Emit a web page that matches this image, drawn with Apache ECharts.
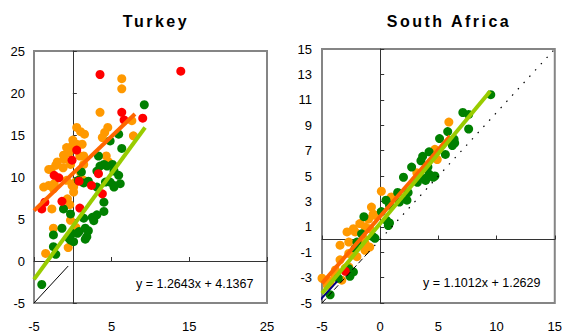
<!DOCTYPE html>
<html>
<head>
<meta charset="utf-8">
<script src="https://cdn.jsdelivr.net/npm/echarts@6/dist/echarts.min.js"></script>
<style>
  html, body { margin: 0; padding: 0; background: #fff; }
  #c { width: 565px; height: 333px; }
</style>
</head>
<body>
<div id="c"></div>
<script>
// ---- Turkey: observation groups [x, y] ----
const turkeyGreen = [
  [9.2,18.6],[5.9,15.1],[4.8,14.3],[6.3,13.4],[3.3,12.5],[3.5,11.3],[4.0,11.5],[4.4,11.3],
  [5.1,11.5],[5.3,10.7],[3.1,10.7],[1.1,10.6],[5.9,10.2],[0.7,9.6],[1.4,9.3],[2.0,9.5],
  [4.2,9.4],[4.8,9.4],[5.3,9.0],[6.1,9.2],[3.1,8.8],[5.3,8.8],[4.0,7.0],[4.0,5.9],
  [3.1,5.5],[2.5,5.2],[1.4,5.1],[2.7,4.8],[-1.2,6.2],[-0.3,5.6],[-1.4,3.9],[-2.5,3.1],
  [1.6,3.9],[1.8,2.9],[1.6,2.6],[-0.5,2.7],[0.1,2.3],[0.6,3.3],[0.8,3.5],[2.0,3.6],
  [-0.1,3.3],[-0.3,2.5],[-2.5,1.7],[-2.2,0.8],[-4.0,-2.8]
];
const turkeyOrange = [
  [6.3,21.7],[6.3,20.5],[3.5,17.7],[7.6,16.7],[0.5,15.9],[1.0,15.4],[1.5,15.1],[4.5,15.9],
  [4.1,15.3],[3.8,14.7],[7.8,14.9],[0.5,13.9],[1.2,13.9],[0.0,14.4],[-0.1,13.7],[-0.8,13.5],
  [-0.5,12.9],[-1.2,12.6],[1.4,12.5],[4.3,12.5],[0.9,12.5],[-1.1,12.1],[-2.0,11.8],[-2.2,11.4],
  [-1.25,11.1],[-0.3,11.5],[1.4,11.5],[4.6,11.8],[-2.8,10.9],[-3.1,10.9],[1.0,10.5],[-0.8,9.6],
  [0.3,9.4],[-0.1,9.0],[1.4,9.6],[-2.4,9.2],[-3.1,9.0],[-3.75,8.8],[-2.5,8.6],[0.1,8.8],
  [0.1,8.2],[-0.7,7.4],[-0.4,6.7],[-2.7,6.2],[-0.3,4.85],[-2.5,3.9],[0.4,4.0],[-3.5,0.9],
  [-0.6,1.6]
];
const turkeyRed = [
  [3.5,22.2],[13.9,22.6],[6.3,17.7],[6.6,16.8],[9.0,17.0],[0.5,13.2],[-0.1,12.0],[-2.4,10.2],
  [-1.8,9.9],[3.3,10.4],[2.4,9.0],[0.8,9.5],[3.8,8.0],[-1.4,7.1],[-3.6,7.0],[-4.0,6.2],[0.9,6.3]
];

// ---- South Africa: observation groups [x, y] ----
const saGreen = [
  [9.5,11.4],[7.1,10.0],[7.6,9.85],[7.6,8.7],[5.8,8.5],[5.1,7.95],[6.35,7.9],[6.4,7.6],
  [6.2,7.4],[5.6,6.7],[4.2,6.9],[3.65,6.55],[3.5,6.2],[2.7,5.7],[4.1,5.7],[4.2,5.15],
  [4.7,5.0],[4.55,4.9],[3.9,4.65],[3.2,4.5],[3.8,4.8],[2.0,4.9],[1.5,3.7],[2.4,3.7],
  [2.3,3.1],[0.5,3.1],[1.65,2.95],[0.8,2.7],[0.1,2.2],[0.55,1.5],[0.7,1.1],[0.8,1.3],
  [-1.4,1.8],[-0.6,0.2],[-0.45,0.1],[-1.6,0.45],[-2.0,-0.2],[-2.15,-0.7],[-2.3,-2.55],
  [-2.6,-2.9],[-2.7,-2.3],[-3.6,-3.05],[-4.3,-4.35]
];
const saOrange = [
  [5.9,9.25],[4.7,7.1],[4.9,6.3],[3.15,5.25],[0.1,3.8],[0.95,3.35],[-0.75,2.55],[-0.6,2.0],
  [-0.45,1.9],[-1.0,1.6],[-1.75,1.25],[-1.3,1.0],[-2.3,0.85],[-2.85,0.6],[-2.15,0.6],[-0.9,0.85],
  [-1.45,0.1],[-2.7,-0.2],[-3.45,-0.45],[-1.3,-0.3],[-0.9,-0.6],[-1.3,-0.85],[-2.0,-1.35],
  [-2.7,-1.1],[-3.45,-1.6],[-2.7,-2.15],[-3.0,-2.25],[-3.85,-2.4],[-3.85,-2.9],[-3.3,-3.2],
  [-4.3,-3.3],[-4.55,-3.6],[-5.0,-3.05]
];
const saRed = [[-3.0,-2.5]];

// ---- fitted lines ----
const turkeyFit = { slope: 1.2643, intercept: 4.1367 };
const turkeyFitRange = [-5, 9.3];
const turkeyOrangeFit = [[-5, 6.0], [8.0, 17.5]];
const turkeyDiagonal = [[-5, -5], [-0.6, -0.6]];

const saFit = { slope: 1.1012, intercept: 1.2629 };
const saFitRange = [-5, 9.45];
const saOrangeFit = [[-5, -3.45], [6.0, 8.15]];
const saDiagonalDash = [[-5, -5], [-1, -1]];
const saDiagonalDot = [[-1, -1], [15, 15]];
const saNavyFit = [[-5.2, -4.8], [-3.7, -3.3]];

// ---- axes ----
const turkeyAxis = { xMin: -5, xMax: 25, xStep: 10, yMin: -5, yMax: 25, yStep: 5 };
const saAxis = { xMin: -5, xMax: 15, xStep: 5, yMin: -5, yMax: 15, yStep: 2 };
const titles = ['Turkey', 'South Africa'];

const FONT = '"Liberation Sans", Arial, Helvetica, sans-serif';
const C_GREEN = '#008000', C_ORANGE = '#FF9900', C_RED = '#FF0000';
const C_FIT = '#99CC00', C_OFIT = '#FF6600';

function fitLine(f, r) {
  return r.map(x => [x, f.slope * x + f.intercept]);
}

function labelAxis(dim, grid, ax) {
  const isX = dim === 'x';
  return {
    type: 'value', gridIndex: grid,
    position: isX ? 'bottom' : 'left',
    min: isX ? ax.xMin : ax.yMin, max: isX ? ax.xMax : ax.yMax,
    interval: isX ? ax.xStep : ax.yStep,
    axisLine: { show: false, onZero: false },
    axisTick: { show: false },
    splitLine: { show: false },
    axisLabel: {
      color: '#000', fontSize: 13, fontFamily: FONT,
      margin: isX ? 17 : (grid === 0 ? 9 : 10),
      showMinLabel: true, showMaxLabel: true
    }
  };
}
function zeroAxis(dim, grid, ax) {
  const isX = dim === 'x';
  return {
    type: 'value', gridIndex: grid,
    position: isX ? 'top' : 'right',
    min: isX ? ax.xMin : ax.yMin, max: isX ? ax.xMax : ax.yMax,
    interval: isX ? ax.xStep : ax.yStep,
    axisLine: { show: true, onZero: true, lineStyle: { color: '#333', width: 1 } },
    axisTick: { show: true, inside: false, length: 4, lineStyle: { color: '#333', width: 1 } },
    splitLine: { show: false },
    axisLabel: { show: false }
  };
}

function scatter(data, color, xi, yi) {
  return {
    type: 'scatter', data, xAxisIndex: xi, yAxisIndex: yi,
    symbol: 'circle', symbolSize: 9,
    itemStyle: { color, opacity: 1 }, silent: true, z: 3
  };
}
function seg(data, color, width, xi, yi, type) {
  return {
    type: 'line', data, xAxisIndex: xi, yAxisIndex: yi,
    symbol: 'none', showSymbol: false, silent: true, z: 4,
    lineStyle: { color, width, type: type || 'solid', cap: 'butt' }
  };
}

const chart = echarts.init(document.getElementById('c'), null, { renderer: 'svg' });
chart.setOption({
  animation: false,
  backgroundColor: '#fff',
  grid: [
    { left: 34, top: 51, width: 233, height: 254, show: true, borderColor: '#858585', borderWidth: 2, backgroundColor: '#fff' },
    { left: 322, top: 49, width: 235, height: 256, show: true, borderColor: '#858585', borderWidth: 2, backgroundColor: '#fff' }
  ],
  xAxis: [
    labelAxis('x', 0, turkeyAxis), zeroAxis('x', 0, turkeyAxis),
    labelAxis('x', 1, saAxis), zeroAxis('x', 1, saAxis)
  ],
  yAxis: [
    labelAxis('y', 0, turkeyAxis), zeroAxis('y', 0, turkeyAxis),
    labelAxis('y', 1, saAxis), zeroAxis('y', 1, saAxis)
  ],
  graphic: [
    { type: 'text', x: 156, y: 21, silent: true,
      style: { text: titles[0], font: 'bold 16px ' + FONT, fill: '#000', align: 'center', verticalAlign: 'middle' } },
    { type: 'text', x: 449, y: 21, silent: true,
      style: { text: titles[1], font: 'bold 16px ' + FONT, fill: '#000', align: 'center', verticalAlign: 'middle' } },
    { type: 'text', x: 136, y: 284, silent: true, z: 10,
      style: { text: 'y = ' + turkeyFit.slope + 'x + ' + turkeyFit.intercept, font: '12.5px ' + FONT, fill: '#000', align: 'left', verticalAlign: 'middle' } },
    { type: 'text', x: 423, y: 283, silent: true, z: 10,
      style: { text: 'y = ' + saFit.slope + 'x + ' + saFit.intercept, font: '12.5px ' + FONT, fill: '#000', align: 'left', verticalAlign: 'middle' } }
  ],
  series: [
    scatter(turkeyOrange, C_ORANGE, 0, 0),
    scatter(turkeyGreen, C_GREEN, 0, 0),
    scatter(turkeyRed, C_RED, 0, 0),
    seg(turkeyDiagonal, '#000', 1, 0, 0),
    seg(turkeyOrangeFit, C_OFIT, 4, 0, 0),
    seg(fitLine(turkeyFit, turkeyFitRange), C_FIT, 4, 0, 0),

    scatter(saOrange, C_ORANGE, 2, 2),
    scatter(saGreen, C_GREEN, 2, 2),
    scatter(saRed, C_RED, 2, 2),
    seg(saDiagonalDot, '#000', 1.2, 2, 2, [1.5, 7]),
    seg(saDiagonalDash, '#000', 1, 2, 2, [6, 3]),
    seg(saNavyFit, '#000080', 2, 2, 2),
    seg(saOrangeFit, C_OFIT, 4, 2, 2),
    seg(fitLine(saFit, saFitRange), C_FIT, 4, 2, 2)
  ]
});

// spaced-out lettering for the two panel headings
function spaceTitles() {
  document.querySelectorAll('#c svg text').forEach(t => {
    if (titles.indexOf(t.textContent) >= 0) t.style.letterSpacing = '2.5px';
  });
}
spaceTitles();
chart.on('finished', spaceTitles);
</script>
</body>
</html>
